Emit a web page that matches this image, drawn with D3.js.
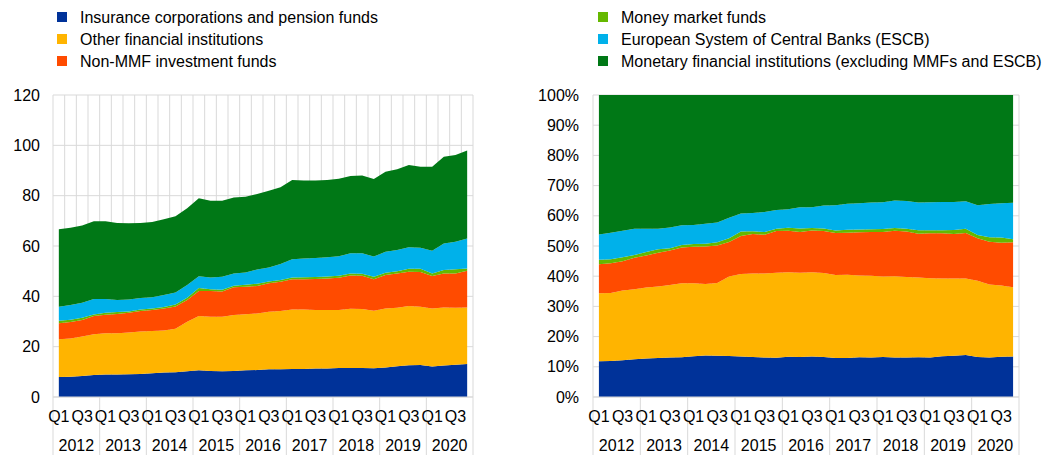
<!DOCTYPE html>
<html><head><meta charset="utf-8">
<script src="https://cdn.jsdelivr.net/npm/d3@7"></script>
<style>body{margin:0;background:#fff}svg{display:block;font-family:"Liberation Sans",Arial,sans-serif}</style>
</head><body><svg id="c" width="1047" height="455"></svg>
<script>
const years = ["2012","2013","2014","2015","2016","2017","2018","2019","2020"];
const quarters = ["Q1","Q2","Q3","Q4"];
const shownQuarters = ["Q1","Q3"];
const seriesNames = ["Insurance corporations and pension funds","Other financial institutions","Non-MMF investment funds","Money market funds","European System of Central Banks (ESCB)","Monetary financial institutions (excluding MMFs and ESCB)"];
const seriesColors = ["#003299","#FFB400","#FF4B00","#65B800","#00B1EA","#007816"];
const insurance = [7.9,8.0,8.3,8.7,8.9,8.9,9.0,9.1,9.4,9.7,9.8,10.2,10.6,10.3,10.2,10.3,10.6,10.7,11.0,11.0,11.1,11.1,11.3,11.3,11.5,11.5,11.5,11.4,11.7,12.2,12.6,12.7,12.1,12.5,12.8,13.1];
const ofi = [15.0,15.2,15.7,16.2,16.4,16.4,16.6,16.9,16.8,16.7,17.3,19.7,21.6,21.6,21.7,22.3,22.3,22.5,22.9,23.2,23.7,23.7,23.3,23.3,23.1,23.6,23.5,22.9,23.5,23.3,23.6,23.2,23.1,23.1,22.7,22.5];
const nonMmf = [6.4,6.6,6.6,7.3,7.4,7.7,7.9,8.2,8.4,8.8,8.9,8.6,9.9,10.2,10.0,11.0,10.9,10.9,11.3,11.6,12.0,12.0,12.3,12.5,12.8,13.2,13.2,12.5,13.3,13.6,13.6,13.8,12.9,13.5,13.6,14.6];
const mmf = [1.0,0.9,0.9,0.6,0.8,0.8,0.5,0.6,0.6,0.6,0.8,0.9,1.2,0.7,0.7,0.6,0.8,0.9,0.7,0.7,0.7,0.8,0.8,0.8,0.8,0.8,0.8,1.0,0.9,0.9,1.2,1.3,1.0,1.4,1.7,0.9];
const escb = [5.6,5.9,6.0,6.1,5.4,4.7,4.7,4.5,4.4,4.7,4.7,5.1,4.7,4.7,5.2,4.9,4.9,5.7,5.6,6.3,7.2,7.4,7.5,7.6,7.7,8.0,8.1,8.0,8.3,8.4,8.5,8.3,9.0,10.5,10.9,11.9];
const mfi = [30.8,30.7,30.6,30.9,30.9,30.6,30.3,29.8,29.9,30.1,30.3,30.5,31.0,30.5,30.2,30.2,30.1,30.0,30.5,30.5,31.5,31.0,30.8,30.7,30.8,30.7,30.9,30.8,31.8,32.1,32.7,32.2,33.4,34.5,34.5,34.9];
const leftTicks = [0,20,40,60,80,100,120];
const rightTicks = [0,0.1,0.2,0.3,0.4,0.5,0.6,0.7,0.8,0.9,1.0];

const keys = ["insurance","ofi","nonMmf","mmf","escb","mfi"];
const cols = [insurance,ofi,nonMmf,mmf,escb,mfi];
const periods = [];
years.forEach(y=>quarters.forEach(q=>periods.push(y+" "+q)));
const rows = periods.map((p,i)=>{const r={period:p};keys.forEach((k,j)=>r[k]=cols[j][i]);return r;});

const svg = d3.select("#c");
const grid = "#d9d9d9";

function chart(x0,x1,y0,y1,offset,ticks,fmt,labelX){
  const g = svg.append("g");
  const xb = d3.scaleBand().domain(periods).range([x0,x1]);
  const xp = d3.scalePoint().domain(periods).range([x0,x1]).padding(0.5);
  const stack = d3.stack().keys(keys);
  if(offset) stack.offset(offset);
  const data = stack(rows);
  const ymax = ticks[ticks.length-1];
  const y = d3.scaleLinear().domain([0,ymax]).range([y1,y0]);
  // gridlines
  g.append("g").selectAll("line").data(ticks).join("line")
    .attr("x1",x0).attr("x2",x1).attr("y1",d=>y(d)).attr("y2",d=>y(d))
    .attr("stroke",grid).attr("stroke-width",1);
  const bounds = periods.map(p=>xb(p)).concat([x1]);
  g.append("g").selectAll("line").data(bounds).join("line")
    .attr("x1",d=>d).attr("x2",d=>d).attr("y1",y0).attr("y2",y1)
    .attr("stroke",grid).attr("stroke-width",1);
  // areas
  const area = d3.area().x(d=>xp(d.data.period)).y0(d=>y(d[0])).y1(d=>y(d[1]));
  g.append("g").selectAll("path").data(data).join("path")
    .attr("d",area).attr("fill",(d,i)=>seriesColors[i]);
  // axes
  const yAxis = d3.axisLeft(y).tickValues(ticks).tickFormat(fmt).tickSize(0).tickPadding(0);
  const ya = g.append("g").attr("transform",`translate(${labelX},0)`).call(yAxis);
  ya.select(".domain").remove();
  ya.selectAll("text").attr("font-size",16).attr("fill","#000").attr("font-family","Liberation Sans, Arial, sans-serif");
  g.append("line").attr("x1",x0).attr("x2",x1).attr("y1",y1).attr("y2",y1).attr("stroke",grid);
  // year separators below the axis
  const yearBounds = years.map(yr=>xb(yr+" Q1")).concat([x1]);
  g.append("g").selectAll("line").data(yearBounds).join("line")
    .attr("x1",d=>d).attr("x2",d=>d).attr("y1",y1).attr("y2",455)
    .attr("stroke",grid);
  // quarter labels
  const qData = periods.filter(p=>shownQuarters.includes(p.split(" ")[1]));
  g.append("g").selectAll("text").data(qData).join("text")
    .attr("x",d=>xp(d)).attr("y",416).attr("text-anchor","middle").attr("dominant-baseline","central")
    .attr("font-size",16).attr("fill","#000").text(d=>d.split(" ")[1]);
  g.append("g").selectAll("text").data(years).join("text")
    .attr("x",d=>xb(d+" Q1")+xb.bandwidth()*2).attr("y",445).attr("text-anchor","middle").attr("dominant-baseline","central")
    .attr("font-size",16).attr("fill","#000").text(d=>d);
}

chart(53,473,95,397,null,leftTicks,d=>d,40);
chart(593,1019,95,397,d3.stackOffsetExpand,rightTicks,d3.format(".0%"),579);

// legend
const legendPos = [[57,17],[57,39],[57,61],[598,17],[598,39],[598,61]];
const lg = svg.append("g");
seriesNames.forEach((n,i)=>{
  const [lx,ly] = legendPos[i];
  lg.append("rect").attr("x",lx).attr("y",ly-5).attr("width",10).attr("height",10).attr("fill",seriesColors[i]);
  lg.append("text").attr("x",lx+23).attr("y",ly).attr("dominant-baseline","central").attr("font-size",16).attr("fill","#000").text(n);
});
</script></body></html>
